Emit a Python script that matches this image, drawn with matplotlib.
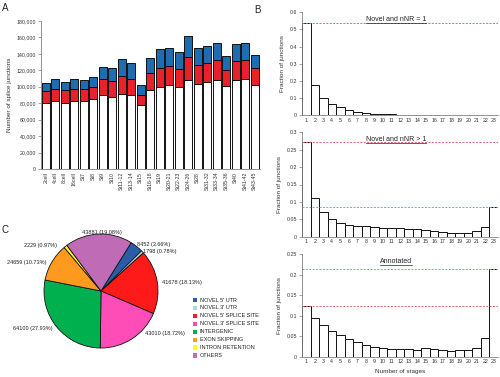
import matplotlib
matplotlib.use('Agg')
import matplotlib.pyplot as plt
from matplotlib.patches import Rectangle
from matplotlib.lines import Line2D

plt.rcParams['font.family'] = ['Liberation Sans', 'DejaVu Sans']

# ---------------- data ----------------
stages = ['2cell', '4cell', '8cell', '16cell', 'St7', 'St8', 'St9', 'St10',
          'St11-12', 'St13-14', 'St15', 'St16-18', 'St19', 'St20-21', 'St22-23',
          'St24-26', 'St28', 'St31-32', 'St33-34', 'St35-36', 'St40', 'St41-42',
          'St43-45']
annotated = [80300, 82700, 80600, 82700, 82500, 85100, 90000, 88000, 91600,
             90000, 77800, 95700, 99300, 101800, 99300, 108200, 103000, 105400,
             108200, 100900, 108200, 109000, 102000]
novel_multi = [14600, 15000, 15100, 15000, 15300, 14900, 19400, 19400, 21900,
               19400, 12200, 21400, 23900, 23000, 22300, 28400, 23000, 23900,
               24300, 19900, 23500, 23900, 20400]
novel_single = [10300, 11300, 10100, 11300, 11000, 11500, 14300, 15000, 19800,
                19100, 11800, 17500, 22300, 21900, 20300, 25400, 20700, 20300,
                21100, 16600, 20300, 20300, 16200]
a_yticks = [0, 20000, 40000, 60000, 80000, 100000, 120000, 140000, 160000, 180000]
a_yticklabels = ['0', '20,000', '40,000', '60,000', '80,000', '100,000',
                 '120,000', '140,000', '160,000', '180,000']

n_stages = list(range(1, 24))
frac_novel_single = [0.540, 0.174, 0.102, 0.063, 0.046, 0.029, 0.018, 0.011,
                     0.007, 0.005, 0.003, 0.002, 0.0015, 0.001, 0.0008, 0.0006,
                     0.0005, 0.0004, 0.0003, 0.0003, 0.0003, 0.0004, 0.0006]
frac_novel_multi = [0.271, 0.112, 0.072, 0.052, 0.040, 0.035, 0.030, 0.030,
                    0.027, 0.026, 0.024, 0.024, 0.022, 0.021, 0.019, 0.016,
                    0.0125, 0.0105, 0.0115, 0.0115, 0.015, 0.027, 0.084]
frac_annotated = [0.1246, 0.0937, 0.0774, 0.0627, 0.0521, 0.0423, 0.035,
                  0.0277, 0.0228, 0.0204, 0.0179, 0.0179, 0.0187, 0.0171,
                  0.022, 0.0179, 0.0155, 0.013, 0.0155, 0.0171, 0.022, 0.0448,
                  0.2134]
b1_ticks = [0, 0.1, 0.2, 0.3, 0.4, 0.5, 0.6]
b1_labels = ['0', '0.1', '0.2', '0.3', '0.4', '0.5', '0.6']
b2_ticks = [0, 0.05, 0.1, 0.15, 0.2, 0.25, 0.3]
b2_labels = ['0', '0.05', '0.1', '0.15', '0.2', '0.25', '0.3']
b3_ticks = [0, 0.05, 0.1, 0.15, 0.2, 0.25]
b3_labels = ['0', '0.05', '0.1', '0.15', '0.2', '0.25']
b_titles = ['Novel and nNR = 1', 'Novel and nNR > 1', 'Annotated']

pie_categories = ["NOVEL 5' UTR", "NOVEL 3' UTR", "NOVEL 5' SPLICE SITE",
                  "NOVEL 3' SPLICE SITE", 'INTERGENIC', 'EXON SKIPPING',
                  'INTRON RETENTION', 'OTHERS']
pie_counts = [8452, 1798, 41678, 43010, 64100, 24659, 2229, 43881]
pie_pcts = ['3.66%', '0.78%', '18.13%', '18.72%', '27.93%', '10.73%',
            '0.97%', '19.08%']
pie_colors = ['#2B5CA8', '#A8DCDC', '#FF1A1A', '#FF4DB8', '#00B04F',
              '#FF9A1F', '#FFFF1A', '#C06BB6']

# ---------------- figure ----------------
W, H = 500, 377
fig = plt.figure(figsize=(W / 100, H / 100), dpi=100)


def box(x0, y0, x1, y1):
    return [x0 / W, 1 - y1 / H, (x1 - x0) / W, (y1 - y0) / H]


TXT = '#333333'
SPINE = '#808080'

# ---------- Panel A ----------
axA = fig.add_axes(box(41, 21, 259.5, 169))
pos = list(range(len(stages)))
bottom2 = [a + b for a, b in zip(annotated, novel_multi)]
axA.bar(pos, annotated, width=0.8, color='white', edgecolor='#111111', linewidth=0.7)
axA.bar(pos, novel_multi, bottom=annotated, width=0.8, color='#E8222A',
        edgecolor='#111111', linewidth=0.7)
axA.bar(pos, novel_single, bottom=bottom2, width=0.8, color='#1F6DB0',
        edgecolor='#111111', linewidth=0.7)
axA.set_xlim(-0.5, len(stages) - 0.5)
axA.set_ylim(0, 180000)
axA.set_yticks(a_yticks)
axA.set_yticklabels(a_yticklabels)
axA.set_xticks(pos)
axA.set_xticklabels(stages, rotation=90)
axA.tick_params(axis='y', labelsize=3.8, length=2, width=0.5, colors=SPINE,
                labelcolor=TXT, pad=1.5)
axA.tick_params(axis='x', labelsize=3.8, length=0, labelcolor=TXT, pad=2)
for s in ['top', 'right']:
    axA.spines[s].set_visible(False)
for s in ['left', 'bottom']:
    axA.spines[s].set_color(SPINE)
    axA.spines[s].set_linewidth(0.6)
fig.text(10 / W, 1 - 95 / H, 'Number of splice junctions', rotation=90,
         ha='center', va='center', fontsize=4.6, color=TXT)

# ---------- Panel B ----------
b_boxes = [box(302, 12.3, 498, 115), box(302, 132.3, 498, 236.7),
           box(302, 254.3, 498, 356.7)]
b_data = [frac_novel_single, frac_novel_multi, frac_annotated]
b_tick_sets = [(b1_ticks, b1_labels), (b2_ticks, b2_labels), (b3_ticks, b3_labels)]
title_objs = []
for i in range(3):
    ax = fig.add_axes(b_boxes[i])
    vals = b_data[i]
    ax.bar(n_stages, vals, width=1.0, color='white', edgecolor='#111111',
           linewidth=0.7)
    ax.axhline(vals[0], color='#E06666', linestyle=(0, (2, 1.5)), linewidth=0.7)
    ax.axhline(vals[-1], color='#33C4E0', linestyle=(0, (2, 1.5)), linewidth=0.7)
    ticks, labels = b_tick_sets[i]
    ax.set_xlim(0.5, 23.5)
    ax.set_ylim(ticks[0], ticks[-1])
    ax.set_yticks(ticks)
    ax.set_yticklabels(labels)
    ax.set_xticks(n_stages)
    ax.set_xticklabels([str(n) for n in n_stages])
    ax.tick_params(axis='y', labelsize=3.8, length=2, width=0.5, colors=SPINE,
                   labelcolor=TXT, pad=1.5)
    ax.tick_params(axis='x', labelsize=3.8, length=0, labelcolor=TXT, pad=2)
    for s in ['top', 'right']:
        ax.spines[s].set_visible(False)
    for s in ['left', 'bottom']:
        ax.spines[s].set_color(SPINE)
        ax.spines[s].set_linewidth(0.6)
    t = ax.text(0.48, 0.93, b_titles[i], transform=ax.transAxes, ha='center',
                va='center', fontsize=5, color='#222222')
    title_objs.append((ax, t))
    ax.set_ylabel('Fraction of junctions', fontsize=4.6, color=TXT, labelpad=3)
    if i == 2:
        ax.set_xlabel('Number of stages', fontsize=4.6, color=TXT, labelpad=3)

# ---------- Panel C ----------
axC = fig.add_axes(box(44, 234, 158, 348))
axC.pie(pie_counts, colors=pie_colors, startangle=58, counterclock=False,
        wedgeprops=dict(edgecolor='#111111', linewidth=0.6))
axC.set_xlim(-1, 1)
axC.set_ylim(-1, 1)
axC.axis('off')

label_pos = [(0.63, 0.82, 'left'), (0.74, 0.69, 'left'), (1.07, 0.15, 'left'),
             (0.77, -0.74, 'left'), (-0.84, -0.65, 'right'),
             (-0.95, 0.50, 'right'), (-0.77, 0.79, 'right'),
             (0.01, 1.03, 'center')]
for cnt, pct, (lx, ly, ha) in zip(pie_counts, pie_pcts, label_pos):
    axC.text(lx, ly, f'{cnt} ({pct})', ha=ha, va='center', fontsize=4,
             color='#222222', clip_on=False)

# legend
for k, (name, col) in enumerate(zip(pie_categories, pie_colors)):
    yy = 300 + k * 7.9
    fig.add_artist(Rectangle((192.5 / W, 1 - (yy + 2.2) / H), 4.2 / W, 4.2 / H,
                             facecolor=col, edgecolor='none',
                             transform=fig.transFigure))
    fig.text(200 / W, 1 - yy / H, name, ha='left', va='center', fontsize=4,
             color='#222222')

# panel letters
fig.text(2 / W, 1 - 8 / H, 'A', fontsize=7, ha='left', va='center', color='#222222')
fig.text(254 / W, 1 - 10 / H, 'B', fontsize=7, ha='left', va='center', color='#222222')
fig.text(2 / W, 1 - 230 / H, 'C', fontsize=7, ha='left', va='center', color='#222222')

# underline the B titles
fig.canvas.draw()
r = fig.canvas.get_renderer()
for ax, t in title_objs:
    bb = t.get_window_extent(r)
    inv = fig.transFigure.inverted()
    (x0, y0), (x1, y1) = inv.transform([(bb.x0, bb.y0), (bb.x1, bb.y1)])
    fig.add_artist(Line2D([x0, x1], [y0 + 0.3 / H, y0 + 0.3 / H],
                          color='#222222', linewidth=0.5,
                          transform=fig.transFigure))

fig.savefig('out.png', dpi=100)
